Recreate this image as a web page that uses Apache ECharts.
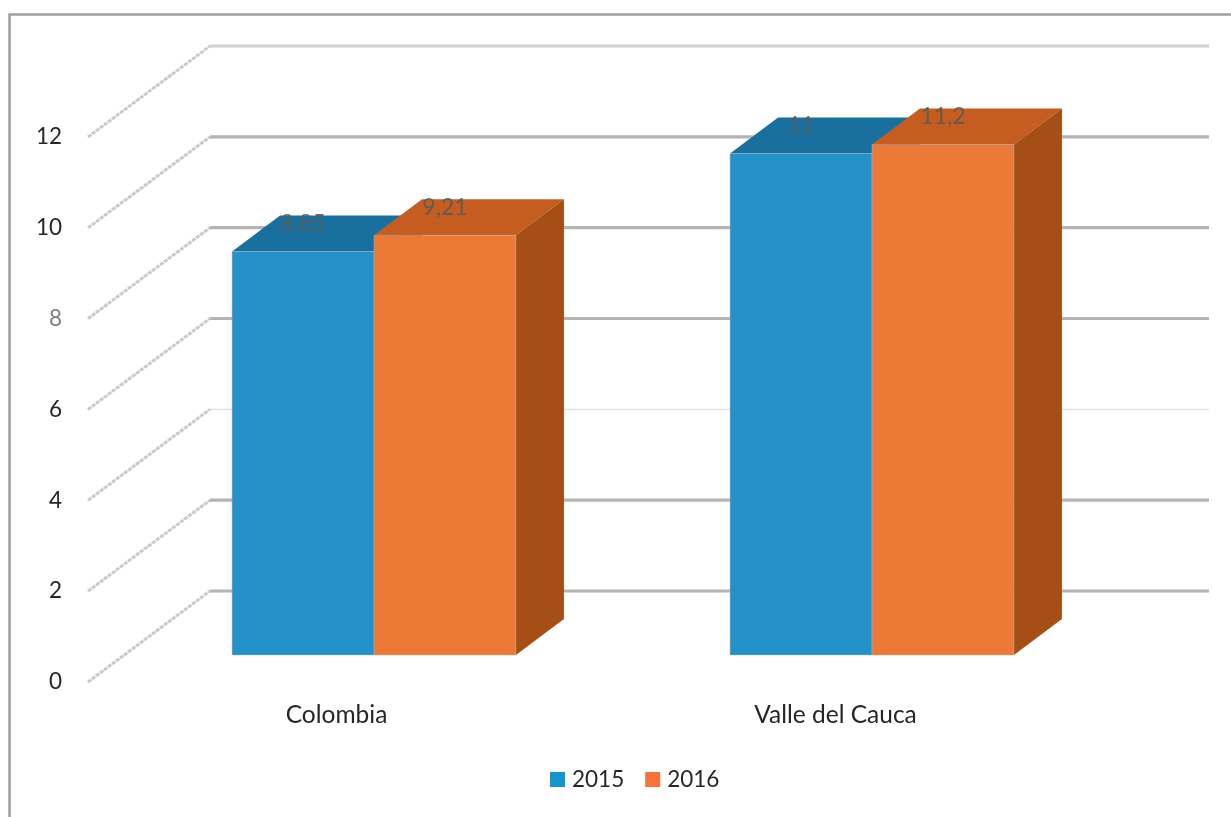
<!DOCTYPE html>
<html>
<head>
<meta charset="utf-8">
<style>html,body{margin:0;padding:0;background:#fff}#c{width:1231px;height:817px}</style>
<script src="https://cdn.jsdelivr.net/npm/echarts@6/dist/echarts.min.js"></script>
</head>
<body>
<div id="c"></div>
<script>
const categories = ['Colombia', 'Valle del Cauca'];
const years = ['2015', '2016'];
const values2015 = [8.85, 11];
const values2016 = [9.21, 11.2];
const tickValues = [0, 2, 4, 6, 8, 10, 12];

const FONT = 'Lato';
const WALL = { dx: 122, dy: -91 };
const DEPTH = { dx: 48, dy: -36 };
const faces = [
  { front: '#2492c9', top: '#19709e', side: '#125a80' },
  { front: '#ec7a36', top: '#c45d1f', side: '#a54e16' }
];
const legendColors = ['#1594ce', '#f7723a'];

function wallStyle(v) {
  if (v === 4) return { stroke: '#e0e0e0', lineWidth: 1.2 };
  if (v === 12) return { stroke: '#d2d0d0', lineWidth: 3.2 };
  return { stroke: '#b6b3b3', lineWidth: 3.2 };
}

function renderWall(params, api) {
  const v = api.value(0);
  const y = api.coord([0, v])[1];
  const x0 = params.coordSys.x + 1;
  const x1 = x0 + WALL.dx;
  const x2 = params.coordSys.x + params.coordSys.width + WALL.dx + 2;
  return {
    type: 'group',
    children: [
      { type: 'line', shape: { x1: x0, y1: y, x2: x1, y2: y + WALL.dy },
        style: { stroke: '#cbc9c9', lineWidth: 3, lineDash: [4, 1] } },
      { type: 'line', shape: { x1: x1, y1: y + WALL.dy, x2: x2, y2: y + WALL.dy },
        style: wallStyle(v) }
    ]
  };
}

function renderBar(params, api) {
  const idx = params.seriesIndex - 1;
  const c = faces[idx];
  const val = api.value(1);
  const band = api.size([1, 0])[0];
  const w = band * 0.285;
  const center = api.coord([api.value(0), 0])[0];
  const base = api.coord([api.value(0), 0])[1];
  const top = api.coord([api.value(0), val])[1];
  const l = center - w + idx * w;
  const r = l + w;
  const d = DEPTH;
  const edge = 'rgba(175,175,175,0.45)';
  return {
    type: 'group',
    children: [
      { type: 'polygon', shape: { points: [[l, top], [l + d.dx, top + d.dy], [r + d.dx, top + d.dy], [r, top]] },
        style: { fill: c.top } },
      { type: 'polygon', shape: { points: [[r, top], [r + d.dx, top + d.dy], [r + d.dx, base + d.dy], [r, base]] },
        style: { fill: c.side } },
      { type: 'rect', shape: { x: l, y: top, width: w, height: base - top },
        style: { fill: c.front, stroke: edge, lineWidth: 1 } },
      { type: 'text', x: l + w / 2, y: top - 28,
        style: { text: String(val).replace('.', ','), font: '23px ' + FONT, fill: 'rgba(90,90,90,0.9)',
                 textAlign: 'center', textVerticalAlign: 'middle' } }
    ]
  };
}

const barSeries = [values2015, values2016].map((vals, i) => ({
  name: years[i],
  type: 'custom',
  xAxisIndex: 1,
  yAxisIndex: 1,
  renderItem: renderBar,
  itemStyle: { color: legendColors[i] },
  encode: { x: 0, y: 1 },
  z: 5,
  data: vals.map((v, k) => [k, v])
}));

const chart = echarts.init(document.getElementById('c'), null, { renderer: 'canvas' });
chart.setOption({
  animation: false,
  backgroundColor: '#fff',
  textStyle: { fontFamily: FONT },
  grid: [
    { left: 87, top: 137, width: 998, height: 545 },
    { left: 125, top: 108, width: 996, height: 547 }
  ],
  xAxis: [
    { type: 'category', gridIndex: 0, data: categories,
      axisLine: { show: false }, axisTick: { show: false },
      axisLabel: { margin: 21, fontSize: 24.5, color: '#262626', fontFamily: FONT } },
    { type: 'category', gridIndex: 1, data: categories, show: false }
  ],
  yAxis: [
    { type: 'value', gridIndex: 0, min: 0, max: 12, interval: 2,
      axisLine: { show: false }, axisTick: { show: false }, splitLine: { show: false },
      axisLabel: { margin: 25, fontSize: 22.5, fontFamily: FONT,
        color: v => (Number(v) === 8 ? '#7f7f7f' : '#262626') } },
    { type: 'value', gridIndex: 1, min: 0, max: 12, interval: 2, show: false }
  ],
  legend: {
    left: 550, top: 768, padding: 0,
    itemWidth: 15, itemHeight: 15, itemGap: 21,
    icon: 'rect',
    textStyle: { fontSize: 22.5, color: '#262626', fontFamily: FONT, padding: [0, 0, 0, 2] },
    data: years.map((y, i) => ({ name: y, itemStyle: { color: legendColors[i] } }))
  },
  graphic: [{
    type: 'polyline', silent: true,
    shape: { points: [[9.5, 817], [9.5, 14.5], [1231, 14.5]] },
    style: { stroke: '#9f9fa3', lineWidth: 2.5, fill: 'none' }
  }],
  series: [
    { type: 'custom', xAxisIndex: 0, yAxisIndex: 0, renderItem: renderWall, z: 1, silent: true,
      encode: { y: 0 }, data: tickValues.map(v => [v]) }
  ].concat(barSeries)
});
</script>
</body>
</html>
